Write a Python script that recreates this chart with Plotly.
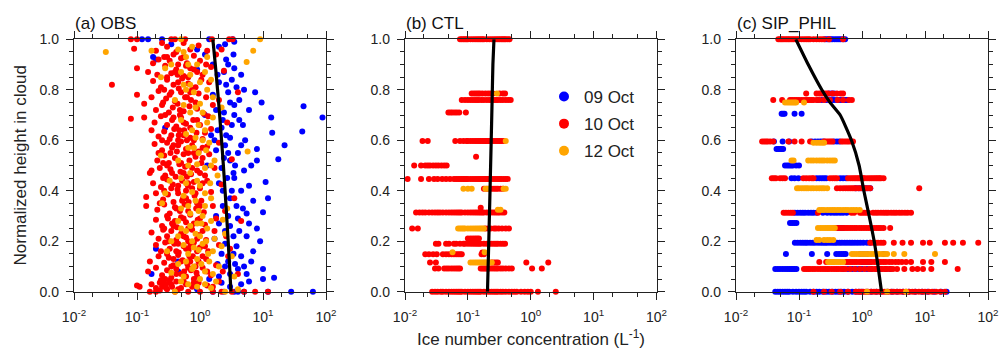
import plotly.graph_objects as go

# ---------------- data (ice number concentration in L^-1, normalized height) ----------------
dates = ["09 Oct", "10 Oct", "12 Oct"]
colors = ["#0000FF", "#FF0000", "#FFA500"]

# (a) OBS : (concentration, height) pairs
obs_09 = [(0.2,0.92),(0.18,0.93),(0.12,1.0),(0.15,1.0),(0.25,1.0),(0.35,0.98),(0.9,0.96),(1.2,0.94),(1.4,1.0),
          (3.3,1.0),(3.5,0.99),(3.4,0.94),(2.5,0.98),(0.9,0.88),(1.6,0.9),(2.4,0.87),(3.5,0.885),(4.5,0.86),
          (3.2,0.84),(2.0,0.83),(3.8,0.81),(5.0,0.8),(7.5,0.79),(2.8,0.79),(9.5,0.75),(4.2,0.76),(3.0,0.75),
          (1.8,0.72),(6.0,0.72),(13.5,0.69),(88,0.69),(44,0.735),(42,0.635),(14,0.63),(22,0.58),(17.5,0.525),
          (3.5,0.7),(2.3,0.68),(4.8,0.66),(2.2,0.65),(1.5,0.62),(3.0,0.61),(5.2,0.6),(8.0,0.565),(2.5,0.58),
          (4.0,0.55),(8.0,0.52),(6.5,0.5),(1.8,0.56),(3.0,0.52),(2.2,0.49),(5.0,0.48),(11.0,0.435),(6.0,0.42),
          (3.5,0.45),(2.0,0.43),(4.5,0.4),(12.0,0.37),(3.0,0.37),(7.0,0.36),(2.3,0.34),(5.5,0.31),(10.0,0.315),
          (4.0,0.29),(6.0,0.27),(8.0,0.25),(3.0,0.26),(2.5,0.24),(5.5,0.22),(9.0,0.2),(1.7,0.21),(0.2,0.17),
          (0.28,0.65),(3.8,0.18),(7.0,0.16),(4.5,0.14),(2.8,0.12),(6.5,0.12),(10.0,0.09),(4.0,0.09),(3.0,0.07),
          (5.5,0.07),(10.0,0.05),(15.0,0.055),(0.45,0.12),(0.45,0.08),(0.17,0.07),(2.0,0.06),(6.0,0.04),
          (4.5,0.03),(3.0,0.02),(2.4,0.0),(5.0,0.0),(12,0.0),(28,0.0),(62,0.0),(1.6,0.0),(3.5,0.0),(0.9,0.01),
          (1.4,0.05),(2.2,0.15),(1.8,0.3),(2.7,0.45),(1.6,0.78),(2.8,0.55),(1.3,0.5),(3.2,0.4),(2.6,0.92),
          (4.2,0.68),(2.6,0.62),(3.6,0.5),(4.8,0.33),(3.4,0.22),(5.0,0.1),(2.5,0.1),(1.9,0.64),(1.2,0.7),
          (2.0,0.97),(2.8,0.9),(1.9,0.86),(2.6,0.82),(3.5,0.74),(2.4,0.71),(3.2,0.66),(1.7,0.6),(4.5,0.58),
          (2.4,0.53),(3.4,0.47),(2.3,0.4),(3.8,0.34),(2.8,0.3),(2.0,0.27),(4.2,0.24),(2.5,0.19),(3.4,0.15),
          (1.9,0.11),(3.6,0.11),(2.2,0.035),(4.0,0.0)]

obs_10 = [(0.08,1.0),(0.1,1.0),(0.35,1.0),(0.4,1.0),(0.58,1.0),(1.55,1.0),(2.9,1.0),(3.3,1.0),
          (0.09,0.963),(0.2,0.955),(0.3,0.97),(0.42,0.95),(0.55,0.985),(0.7,0.96),(0.95,0.975),(1.3,0.955),(2.2,0.96),(0.25,0.985),
          (0.1,0.885),(0.18,0.905),(0.27,0.93),(0.33,0.915),(0.38,0.94),(0.5,0.925),(0.62,0.905),(0.8,0.935),(1.0,0.915),(1.25,0.9),(1.8,0.94),(0.22,0.92),(0.45,0.9),
          (0.15,0.87),(0.21,0.86),(0.28,0.895),(0.35,0.865),(0.42,0.88),(0.55,0.855),(0.7,0.885),(0.9,0.87),(1.1,0.86),(1.5,0.89),(2.4,0.875),(0.3,0.85),(0.6,0.895),
          (0.04,0.82),(0.18,0.835),(0.24,0.81),(0.3,0.84),(0.38,0.82),(0.46,0.805),(0.52,0.845),(0.65,0.825),(0.85,0.81),(1.05,0.84),(1.4,0.83),(0.27,0.8),(0.75,0.8),
          (0.1,0.78),(0.17,0.77),(0.22,0.795),(0.29,0.765),(0.33,0.78),(0.4,0.755),(0.5,0.79),(0.58,0.77),(0.72,0.76),(0.95,0.785),(1.25,0.77),(2.0,0.76),(4.0,0.79),(0.26,0.75),
          (0.13,0.745),(0.2,0.72),(0.25,0.74),(0.32,0.71),(0.37,0.73),(0.44,0.745),(0.55,0.715),(0.68,0.735),(0.9,0.725),(1.15,0.705),(1.6,0.74),(0.28,0.7),(0.48,0.7),
          (0.08,0.685),(0.13,0.69),(0.19,0.67),(0.24,0.695),(0.3,0.66),(0.36,0.68),(0.42,0.655),(0.5,0.69),(0.6,0.665),(0.78,0.68),(1.0,0.66),(1.35,0.695),(2.7,0.67),
          (0.17,0.64),(0.22,0.615),(0.27,0.635),(0.33,0.605),(0.39,0.645),(0.46,0.62),(0.56,0.64),(0.7,0.61),(0.88,0.63),(1.1,0.605),(1.5,0.645),(0.25,0.6),(0.62,0.6),
          (0.19,0.585),(0.25,0.56),(0.3,0.59),(0.36,0.57),(0.43,0.555),(0.5,0.595),(0.6,0.565),(0.75,0.58),(0.95,0.555),(1.3,0.575),(2.0,0.59),(0.22,0.55),(0.8,0.55),
          (0.17,0.48),(0.21,0.52),(0.27,0.54),(0.32,0.51),(0.4,0.53),(0.47,0.505),(0.55,0.545),(0.68,0.52),(0.85,0.535),(1.05,0.51),(1.4,0.545),(3.2,0.525),(0.3,0.5),
          (0.16,0.47),(0.23,0.49),(0.28,0.46),(0.34,0.485),(0.41,0.455),(0.49,0.475),(0.58,0.495),(0.72,0.465),(0.9,0.48),(1.2,0.46),(1.7,0.49),(0.26,0.45),
          (0.18,0.43),(0.24,0.415),(0.3,0.445),(0.37,0.425),(0.44,0.405),(0.52,0.44),(0.64,0.42),(0.8,0.435),(1.0,0.41),(1.3,0.44),(2.2,0.425),(0.27,0.4),(0.6,0.4),
          (0.14,0.375),(0.2,0.39),(0.26,0.365),(0.31,0.385),(0.38,0.355),(0.45,0.39),(0.54,0.37),(0.66,0.355),(0.82,0.38),(1.05,0.36),(1.5,0.395),(3.5,0.37),(0.23,0.35),
          (0.14,0.34),(0.21,0.325),(0.27,0.345),(0.33,0.31),(0.4,0.335),(0.48,0.32),(0.57,0.345),(0.7,0.305),(0.87,0.33),(1.15,0.315),(1.6,0.34),(2.5,0.32),(0.3,0.3),
          (0.2,0.285),(0.25,0.26),(0.31,0.29),(0.36,0.27),(0.43,0.255),(0.5,0.295),(0.6,0.275),(0.73,0.26),(0.92,0.285),(1.2,0.265),(1.8,0.29),(4.5,0.28),(0.27,0.25),(0.65,0.25),
          (0.17,0.235),(0.22,0.21),(0.26,0.245),(0.3,0.22),(0.35,0.24),(0.42,0.205),(0.5,0.23),(0.6,0.215),(0.75,0.245),(0.95,0.225),(1.25,0.205),(1.7,0.24),(2.6,0.22),(0.32,0.2),
          (0.2,0.185),(0.24,0.16),(0.28,0.195),(0.33,0.17),(0.39,0.19),(0.46,0.155),(0.55,0.18),(0.66,0.165),(0.8,0.195),(1.0,0.175),(1.35,0.16),(2.0,0.185),(3.0,0.17),(0.3,0.15),
          (0.16,0.12),(0.22,0.14),(0.27,0.115),(0.32,0.135),(0.38,0.105),(0.45,0.145),(0.53,0.125),(0.63,0.11),(0.77,0.14),(0.95,0.12),(1.25,0.13),(1.8,0.105),(2.8,0.14),(0.35,0.1),(0.85,0.1),
          (0.15,0.08),(0.2,0.095),(0.25,0.065),(0.3,0.085),(0.35,0.055),(0.42,0.09),(0.5,0.07),(0.6,0.06),(0.72,0.085),(0.88,0.075),(1.1,0.095),(1.5,0.065),(2.3,0.08),(4.0,0.07),(0.28,0.05),
          (0.1,0.025),(0.11,0.02),(0.17,0.03),(0.2,0.015),(0.23,0.035),(0.25,0.02),(0.26,0.04),(0.28,0.025),(0.3,0.01),(0.27,0.03),(0.32,0.035),
          (0.36,0.02),(0.42,0.04),(0.5,0.015),(0.6,0.03),(0.75,0.02),(0.95,0.035),(1.3,0.025),(2.0,0.04),(0.24,0.045),(0.29,0.015),
          (0.16,0.0),(0.2,0.0),(0.4,0.0),(0.65,0.0),(1.0,0.0),(1.6,0.0),(2.2,0.0),(3.2,0.0),(5.0,0.0),(7.5,0.0),(12,0.0),
          (0.35,0.62),(0.45,0.58),(0.55,0.47),(0.65,0.43),(0.4,0.28),(0.7,0.18),(0.9,0.21),(0.38,0.13),(0.48,0.72),(0.62,0.77),
          (0.44,0.86),(0.34,0.55),(0.52,0.36),(0.68,0.14),(0.56,0.08),(0.8,0.05),(1.1,0.53),(0.85,0.39),(0.26,0.51),(0.47,0.64),
          (0.3,0.93),(0.4,0.87),(0.55,0.93),(0.65,0.85),(0.8,0.88),(0.35,0.79),(0.45,0.83),(0.7,0.79),(0.85,0.75),(0.38,0.69),
          (0.55,0.67),(0.7,0.65),(0.9,0.68),(0.45,0.6),(0.55,0.62),(0.8,0.6),(1.2,0.63),(0.38,0.58),(0.65,0.55),(1.1,0.57),
          (0.5,0.51),(0.75,0.49),(1.0,0.47),(0.36,0.47),(0.62,0.455),(0.45,0.42),(0.75,0.41),(1.1,0.43),(0.35,0.41),(0.6,0.37),
          (0.9,0.35),(0.42,0.33),(0.65,0.32),(1.0,0.34),(0.55,0.29),(0.8,0.27),(1.0,0.29),(0.38,0.26),(0.55,0.22),(0.65,0.2),
          (1.1,0.24),(0.45,0.19),(0.6,0.17),(0.9,0.16),(1.2,0.18),(0.42,0.16),(0.5,0.12),(0.7,0.12),(1.1,0.14),(0.42,0.07),
          (0.65,0.095),(0.9,0.06),(1.3,0.08),(0.35,0.03),(0.45,0.01),(0.55,0.04),(0.8,0.035),(1.6,0.02),(0.23,0.005),(0.33,0.045)]

obs_12 = [(0.032,0.95),(0.5,1.0),(9.0,1.0),(7.0,0.955),(0.17,0.955),(0.45,0.96),(5.5,0.91),(0.28,0.885),(0.6,0.93),
          (0.9,0.9),(1.2,0.87),(0.24,0.85),(0.55,0.82),(0.8,0.79),(1.5,0.84),(0.4,0.76),(1.0,0.745),(0.7,0.71),
          (2.2,0.73),(0.5,0.68),(0.95,0.66),(1.6,0.69),(0.6,0.625),(1.1,0.6),(0.8,0.57),(1.4,0.59),(5.7,0.555),
          (0.24,0.54),(0.45,0.52),(0.9,0.505),(1.2,0.49),(0.7,0.47),(1.9,0.46),(0.33,0.44),(0.6,0.43),(1.0,0.42),
          (0.28,0.39),(0.55,0.38),(0.85,0.36),(1.5,0.37),(0.25,0.35),(0.5,0.33),(0.7,0.31),(1.1,0.3),(2.7,0.33),
          (0.45,0.28),(0.9,0.27),(1.3,0.25),(0.6,0.24),(1.0,0.22),(1.7,0.21),(2.5,0.23),(0.35,0.2),(0.55,0.185),
          (0.8,0.175),(1.1,0.19),(1.6,0.16),(0.3,0.16),(0.65,0.15),(0.9,0.13),(1.4,0.12),(3.2,0.14),(0.45,0.11),
          (0.75,0.09),(1.2,0.08),(2.0,0.1),(0.35,0.075),(0.55,0.06),(1.0,0.05),(1.8,0.04),(3.5,0.06),(0.65,0.03),
          (0.9,0.02),(1.5,0.015),(2.5,0.0),(0.4,0.0),(4.0,0.01),(0.5,0.87),(0.6,0.8),(0.65,0.9),(1.3,0.8),
          (1.1,0.71),(0.75,0.64),(0.85,0.61),(1.25,0.56),(1.7,0.52),(0.65,0.5),(0.75,0.395),(1.2,0.34),(2.3,0.285),
          (0.5,0.25),(0.75,0.2),(1.25,0.2),(0.95,0.165),(2.2,0.18),(0.6,0.12),(1.6,0.07),(0.7,0.86),(1.0,0.83),
          (0.85,0.73),(1.2,0.64),(0.95,0.55),(1.45,0.43),(1.05,0.27),(0.85,0.23),
          (0.55,0.95),(0.75,0.97),(1.3,0.93),(0.35,0.9),(0.7,0.82),(1.6,0.77),(0.55,0.74),(1.3,0.67),(0.65,0.57),
          (1.5,0.5),(0.5,0.45),(0.9,0.44),(1.2,0.39),(0.65,0.34),(0.95,0.32),(1.5,0.28),(0.7,0.26),(0.45,0.22),
          (1.35,0.15),(0.8,0.1),(1.05,0.11),(0.5,0.04),(1.2,0.03)]

obs_median_h = [0.0, 0.1, 0.2, 0.3, 0.4, 0.5, 0.6, 0.7, 0.8, 0.9, 1.0]
obs_median_x = [3.1, 2.95, 2.8, 2.65, 2.5, 2.35, 2.2, 2.05, 1.9, 1.75, 1.6]

# (b) CTL : (height level, concentrations on that level)
ctl_09 = []
ctl_10 = [(1.0, [0.075,0.08,0.085,0.09,0.095,0.1,0.11,0.12,0.13,0.14,0.15,0.16,0.17,0.18,0.2,0.22,0.24,0.26,0.28,0.3,0.32,0.34,0.36,0.38,0.4,0.43,0.46]),
          (0.785, [0.115,0.125,0.135,0.145,0.155,0.17,0.19,0.21,0.23,0.25,0.32,0.36,0.39]),
          (0.76, [0.08,0.09,0.1,0.11,0.12,0.13,0.14,0.15,0.165,0.18,0.2,0.22,0.24,0.26,0.28,0.3,0.33,0.36,0.4,0.44,0.48]),
          (0.71, [0.049,0.053,0.057,0.062,0.067,0.073,0.093]),
          (0.597, [0.019,0.023,0.063,0.075,0.085,0.095,0.1,0.11,0.12,0.13,0.14,0.15,0.16,0.17,0.18,0.19,0.2,0.21,0.22,0.24,0.26,0.28,0.3,0.32,0.34,0.37]),
          (0.535, [0.135]),
          (0.50, [0.014,0.018,0.021,0.023,0.025,0.028,0.031,0.034,0.038,0.042,0.046]),
          (0.447, [0.011,0.018,0.024,0.029,0.033,0.039,0.045,0.052,0.06,0.065,0.07,0.075,0.08,0.085,0.09,0.095,0.1,0.11,0.12,0.13,0.14,0.15,0.16,0.17,0.18,0.19,0.2,0.21,0.22,0.24,0.26,0.28,0.3,0.32,0.34,0.37,0.4,0.43]),
          (0.408, [0.18,0.2,0.22,0.24,0.26,0.28,0.3,0.33,0.36]),
          (0.333, [0.16]),
          (0.314, [0.015,0.017,0.019,0.021,0.024,0.027,0.03,0.033,0.036,0.04,0.045,0.05,0.055,0.06,0.065,0.07,0.075,0.08,0.09,0.1,0.11,0.12,0.13,0.14,0.15,0.16,0.17,0.18,0.2,0.22,0.24,0.26,0.28,0.3,0.32,0.35,0.38]),
          (0.25, [0.013,0.016,0.19,0.21,0.23,0.26,0.28,0.31,0.35,0.4,0.45]),
          (0.211, [0.1,0.11,0.12,0.13,0.14,0.15]),
          (0.19, [0.031,0.034,0.045,0.05,0.06,0.065,0.075,0.085,0.09,0.1,0.11,0.12,0.13,0.14,0.15,0.16,0.18,0.2,0.22,0.24,0.26,0.28,0.3,0.33,0.36,0.39]),
          (0.155, [0.17]),
          (0.148, [0.021,0.024,0.028,0.032,0.04,0.045,0.05,0.055,0.06,0.065,0.07,0.075,0.08,0.165,0.18]),
          (0.116, [0.025,0.031,0.24,0.26,0.28,0.3,0.85,1.9]),
          (0.092, [0.03,0.034,0.042,0.046,0.05,0.055,0.06,0.065,0.07,0.075,0.16,0.17,0.18,0.19,0.2,0.21,0.22,0.24,0.26,0.28,0.3,0.33,0.36,0.4,0.45,0.5,1.05,1.5]),
          (0.0, [0.027,0.03,0.033,0.037,0.04,0.045,0.05,0.055,0.06,0.065,0.07,0.075,0.08,0.09,0.1,0.11,0.12,0.13,0.14,0.15,0.16,0.18,0.2,0.22,0.24,0.26,0.28,0.3,0.33,0.36,0.4,0.45,0.5,0.55,0.6,0.7,0.8,0.9,1.0,1.3,2.5])]
ctl_12 = [(0.785, [0.29]),
          (0.597, [0.4]),
          (0.408, [0.085,0.1,0.115,0.19,0.21,0.37,0.4]),
          (0.325, [0.3,0.33]),
          (0.25, [0.07,0.075,0.08,0.085,0.09,0.1,0.11,0.12,0.13,0.14,0.15,0.16,0.17,0.18]),
          (0.156, [0.057,0.185]),
          (0.116, [0.11,0.12,0.13,0.14,0.15,0.16,0.17,0.18,0.19,0.2,0.22,0.24])]
ctl_median_h = [0.0, 0.1, 0.2, 0.3, 0.4, 0.5, 0.6, 0.7, 0.8, 0.9, 1.0]
ctl_median_x = [0.205, 0.21, 0.215, 0.22, 0.225, 0.23, 0.235, 0.24, 0.245, 0.25, 0.26]

# (c) SIP_PHIL
sip_09 = [(1.0, [0.26,0.28,0.3,0.32,0.34,0.37,0.4,0.43,0.46,0.5,0.54]),
          (0.785, [0.3,0.33,0.36]),
          (0.76, [0.2,0.23,0.27,0.3,0.33,0.36,0.4,0.44,0.48,0.52,0.56,0.6]),
          (0.705, [0.053,0.056,0.059,0.085,0.11]),
          (0.595, [0.04,0.055,0.07,0.16,0.18,0.2,0.22,0.24,0.36,0.4,0.44]),
          (0.565, [0.044,0.047,0.05,0.053,0.056]),
          (0.50, [0.06,0.065,0.07,0.075,0.08,0.09,0.1]),
          (0.449, [0.076,0.085,0.098,0.19,0.21,0.23,0.25,0.27,0.45,0.5,0.56]),
          (0.41, [0.8,0.9,1.0,1.1,1.2,1.35]),
          (0.313, [0.086,0.095,0.105,0.115,0.125,0.14,0.155,0.17,0.19,0.24,0.28,0.32,0.36,0.4,0.45,0.5,0.57]),
          (0.272, [0.072,0.078,0.084,0.091]),
          (0.252, [0.42,0.46,0.5]),
          (0.194, [0.086,0.095,0.105,0.115,0.125,0.135,0.15,0.165,0.18,0.2,0.22,0.24,0.26,0.28,0.31,0.34,0.37,0.4,0.44,0.48,0.53,0.58,0.64,0.7,0.77,0.85,0.94,1.05,1.2,1.35]),
          (0.149, [0.062,0.16,0.28,0.39,0.43,0.47,0.51,0.55,0.94,1.05,1.2,2.2]),
          (0.118, [1.0,1.1,1.2,1.35]),
          (0.09, [0.042,0.046,0.05,0.055,0.06,0.065,0.07,0.075,0.08,0.085,0.091,0.5,0.6,0.7,0.8,0.9,1.0,1.2,1.4,1.7,2.0,2.4,2.8]),
          (0.0, [0.042,0.046,0.05,0.055,0.06,0.065,0.07,0.08,0.09,0.1,0.11,0.12,0.13,0.15,0.17,0.19,0.21,0.24,0.27,0.3,0.34,0.38,0.42,0.47,0.52,0.6,0.7,0.8,0.9,1.0,1.2,1.4,1.7,2.0,2.5,3.0,3.6,4.5,5.5,7,9,11,14,18,22])]
sip_10 = [(1.0, [0.047,0.05,0.053,0.056,0.06,0.064,0.068,0.072,0.077,0.082,0.088,0.094,0.1,0.11,0.12,0.13,0.14,0.15,0.17,0.19,0.21,0.23,0.25,0.3,0.5]),
          (0.785, [0.13,0.19,0.21,0.23,0.25,0.27,0.29,0.34,0.4,0.46,0.5]),
          (0.76, [0.039,0.054,0.072,0.078,0.085,0.092,0.1,0.11,0.12,0.13,0.14,0.15,0.16,0.17,0.19,0.21,0.25,0.31,0.41,0.5,0.62,0.69]),
          (0.595, [0.026,0.028,0.03,0.032,0.035,0.039,0.068,0.085,0.11,0.15,0.25,0.26,0.28,0.3,0.32,0.34,0.47,0.5,0.54,0.58,0.62,0.67,0.72]),
          (0.449, [0.037,0.04,0.043,0.05,0.055,0.06,0.117,0.13,0.145,0.16,0.17,0.31,0.34,0.37,0.4,0.6,0.65,0.7,0.75,0.8,0.85,0.9,0.95,1.0,1.05,1.1,1.2,1.3,1.4,1.5,1.6,1.7,1.8,1.9,2.0,2.2]),
          (0.41, [0.4,0.45,0.5,0.55,0.6,0.65,0.7,0.75,0.8,0.87,0.95,1.05,1.15,1.25,1.35,8.1]),
          (0.313, [0.057,0.062,0.068,0.074,0.08,0.2,0.68,0.75,0.93,1.0,1.08,1.17,1.26,1.5,1.65,1.8,2.0,2.2,2.4,2.6,2.9,3.2,3.5,3.9,4.3,4.8,5.3,6.0]),
          (0.252, [0.37,0.4,0.44,0.48,0.52,0.56,0.6,0.65,0.7,0.76,0.82,0.9,0.98,1.07,1.17,1.28,1.4,1.55,1.7,1.85,2.0,2.2,2.8]),
          (0.194, [1.35,1.5,1.65,1.8,2.0,2.2,3.2,4.4,6.0,9.3,11.9,20.7,28,40,70]),
          (0.118, [0.21,0.27,0.56,0.6,0.65,0.7,0.76,0.82,0.9,0.98,1.07,1.17,1.28,1.4,1.55,1.7,1.85,2.0,2.2,2.4,2.7,3.0,3.4,3.8,4.3,5.0,6.0,9.3,12.6,20.7]),
          (0.09, [0.12,0.13,0.14,0.15,0.165,0.18,0.2,0.22,0.24,0.26,0.28,0.3,0.33,0.36,0.39,0.42,0.46,0.5,0.55,0.65,0.77,0.93,1.1,1.3,1.45,1.6,1.75,1.9,2.1,2.3,2.5,2.8,3.1,3.6,4.7,6.3,7.6,9.3,12.6,33]),
          (0.0, [0.17,0.25,0.33,0.45,0.6,0.8,0.88,0.96,1.05,1.15,1.25,1.4,1.55,1.7,1.9,2.1,2.3,2.6,2.9,3.2,3.6,4.0,4.5,5.0,5.6,6.3,7.0,8.0,9.0,10,11.5,13,15,17.5,20.7])]
sip_12 = [(0.75, [0.06,0.065,0.07,0.075,0.08,0.085,0.09,0.12]),
          (0.59, [0.17,0.19,0.21,0.23,0.25]),
          (0.52, [0.076,0.082,0.14,0.155,0.17,0.19,0.21,0.23,0.25,0.28,0.31,0.34,0.37]),
          (0.41, [0.093,0.1,0.11,0.12,0.13,0.14,0.155,0.17,0.19,0.21,0.23,0.25,0.28]),
          (0.324, [0.21,0.23,0.25,0.28,0.31,0.34,0.37,0.41,0.45,0.5,0.55,0.6,0.67,0.74,0.82,0.92]),
          (0.252, [0.2,0.22,0.24,0.26,0.28,0.3,0.32,0.34,0.37]),
          (0.205, [0.19,0.21,0.25,0.28,0.31,0.35]),
          (0.149, [0.69,0.75,0.82,0.9,0.98,1.07,1.17,1.28,1.4,1.55,1.7,1.9,2.1,2.3,2.5,3.2,4.7,14.4]),
          (0.118, [0.29,0.31,0.33,0.35,0.37,0.4,0.43,0.46,0.5]),
          (0.0, [1.2,2.5,5.0])]
sip_median_h = [0.0, 0.1, 0.2, 0.3, 0.4, 0.5, 0.6, 0.7, 0.75, 0.8, 0.9, 1.0]
sip_median_x = [2.04, 1.8, 1.56, 1.3, 1.07, 0.9, 0.68, 0.45, 0.31, 0.23, 0.14, 0.089]

panel_titles = ["(a) OBS", "(b) CTL", "(c) SIP_PHIL"]
xtick_vals = [0.01, 0.1, 1, 10, 100]
xtick_text = ["10<sup>-2</sup>", "10<sup>-1</sup>", "10<sup>0</sup>", "10<sup>1</sup>", "10<sup>2</sup>"]
xminor_vals = [0.02, 0.05, 0.2, 0.5, 2, 5, 20, 50]
ytick_vals = [0.0, 0.2, 0.4, 0.6, 0.8, 1.0]


def from_pairs(pairs):
    return [p[0] for p in pairs], [p[1] for p in pairs]


def from_levels(levels):
    xs, ys = [], []
    for h, row in levels:
        for v in row:
            xs.append(v)
            ys.append(h)
    return xs, ys


panels = [
    ([from_pairs(obs_09), from_pairs(obs_10), from_pairs(obs_12)], (obs_median_x, obs_median_h)),
    ([from_levels(ctl_09), from_levels(ctl_10), from_levels(ctl_12)], (ctl_median_x, ctl_median_h)),
    ([from_levels(sip_09), from_levels(sip_10), from_levels(sip_12)], (sip_median_x, sip_median_h)),
]

W, H = 999, 351
x_px = [(74, 326), (405, 656.5), (736, 988)]
y_top, y_bot = 39.3, 291.7
ydom = [(H - y_bot) / H, (H - y_top) / H]

fig = go.Figure()
for i, (series, (mx, mh)) in enumerate(panels):
    xa = "x" if i == 0 else f"x{i+1}"
    ya = "y" if i == 0 else f"y{i+1}"
    for k, (xs, ys) in enumerate(series):
        fig.add_trace(go.Scatter(x=xs, y=ys, mode="markers", xaxis=xa, yaxis=ya,
                                 marker=dict(size=6, color=colors[k], line=dict(width=0)),
                                 cliponaxis=False, showlegend=False, hoverinfo="skip"))
    fig.add_trace(go.Scatter(x=mx, y=mh, mode="lines", xaxis=xa, yaxis=ya,
                             line=dict(color="black", width=3.2, shape="spline", smoothing=0.5),
                             cliponaxis=False, showlegend=False))

# legend entries (shown in panel b)
for k in range(3):
    fig.add_trace(go.Scatter(x=[None], y=[None], mode="markers", xaxis="x2", yaxis="y2",
                             marker=dict(size=10, color=colors[k]), name=dates[k],
                             legendgroup=dates[k], showlegend=True))

axcol = "#222222"
tickfont = dict(family="Liberation Sans, Arial, sans-serif", size=14, color=axcol)
layout = dict(width=W, height=H, margin=dict(l=0, r=0, t=0, b=0, pad=0), autosize=False,
              template="none",
              paper_bgcolor="white", plot_bgcolor="white",
              font=dict(family="Liberation Sans, Arial, sans-serif", color=axcol),
              legend=dict(x=544 / W, y=(H - 79) / H, xanchor="left", yanchor="top",
                          font=dict(size=17, color=axcol), bgcolor="rgba(0,0,0,0)",
                          borderwidth=0, tracegroupgap=2, traceorder="grouped"))

for i in range(3):
    sx = "" if i == 0 else str(i + 1)
    dom = [x_px[i][0] / W, x_px[i][1] / W]
    layout["xaxis" + sx] = dict(type="log", range=[-2, 2], domain=dom, anchor="y" + sx,
                                automargin=False,
                                tickmode="array", tickvals=xtick_vals, ticktext=xtick_text,
                                ticks="outside", ticklen=7, tickwidth=1.2, tickcolor=axcol,
                                showline=True, linecolor=axcol, linewidth=1.3, mirror="allticks",
                                showgrid=False, zeroline=False, tickfont=tickfont,
                                ticklabelstandoff=5,
                                minor=dict(tickmode="array", tickvals=xminor_vals, ticks="outside",
                                           ticklen=4, tickwidth=1, tickcolor=axcol, showgrid=False))
    layout["yaxis" + sx] = dict(range=[0, 1], domain=ydom, anchor="x" + sx,
                                automargin=False,
                                tickmode="array", tickvals=ytick_vals, tickformat=".1f",
                                ticks="outside", ticklen=7, tickwidth=1.2, tickcolor=axcol,
                                showline=True, linecolor=axcol, linewidth=1.3, mirror="allticks",
                                showgrid=False, zeroline=False, tickfont=tickfont,
                                ticklabelstandoff=4,
                                minor=dict(tickmode="linear", tick0=0, dtick=0.05, ticks="outside",
                                           ticklen=4, tickwidth=1, tickcolor=axcol, showgrid=False))
    # overlay axes giving the inward half of the major ticks
    ox = str(i + 4)
    layout["xaxis" + ox] = dict(type="log", range=[-2, 2], overlaying="x" + sx, anchor="y" + sx,
                                automargin=False,
                                tickmode="array", tickvals=xtick_vals, ticks="inside", ticklen=7,
                                tickwidth=1.2, tickcolor=axcol, showticklabels=False, showline=False,
                                mirror="allticks", showgrid=False, zeroline=False)
    layout["yaxis" + ox] = dict(range=[0, 1], overlaying="y" + sx, anchor="x" + sx,
                                automargin=False,
                                tickmode="array", tickvals=ytick_vals, ticks="inside", ticklen=7,
                                tickwidth=1.2, tickcolor=axcol, showticklabels=False, showline=False,
                                mirror="allticks", showgrid=False, zeroline=False)

annotations = []
for i in range(3):
    annotations.append(dict(text=panel_titles[i], xref="paper", yref="paper",
                            x=(x_px[i][0] - 1) / W, y=(H - 23) / H, xanchor="left", yanchor="middle",
                            showarrow=False, font=dict(size=17, color="#111")))
annotations.append(dict(text="Normalized height in cloud", xref="paper", yref="paper",
                        x=20 / W, y=(ydom[0] + ydom[1]) / 2, xanchor="center", yanchor="middle",
                        textangle=-90, showarrow=False, font=dict(size=17, color=axcol)))
annotations.append(dict(text="Ice number concentration (L<sup>-1</sup>)", xref="paper", yref="paper",
                        x=531 / W, y=(H - 338) / H, xanchor="center", yanchor="middle",
                        showarrow=False, font=dict(size=17, color=axcol)))
layout["annotations"] = annotations

fig.update_layout(**layout)
fig.write_html("out.html")
